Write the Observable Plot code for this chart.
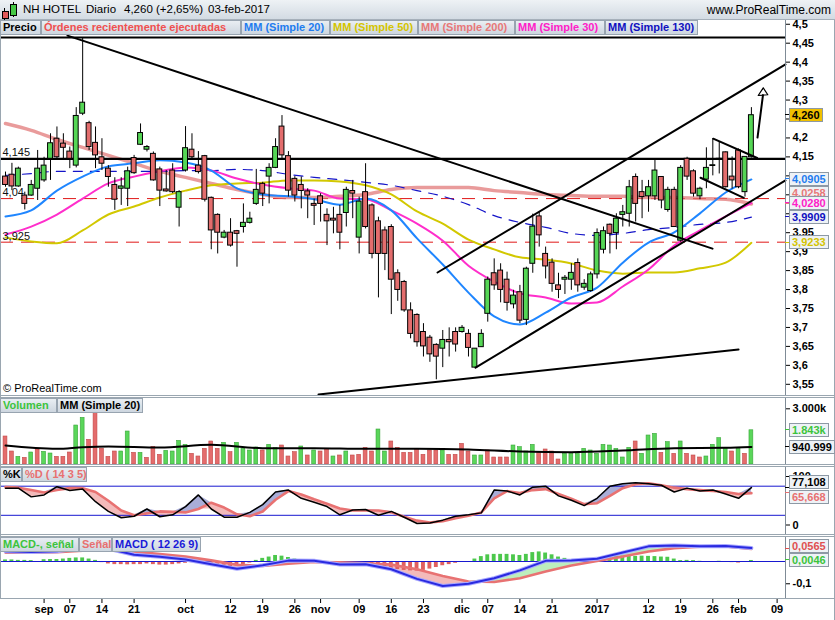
<!DOCTYPE html>
<html><head><meta charset="utf-8">
<script src="https://cdn.jsdelivr.net/npm/d3@7"></script>
<script src="https://cdn.jsdelivr.net/npm/@observablehq/plot@0.6"></script>
<style>
body{margin:0;background:#fff;}
#wrap{position:relative;width:835px;height:620px;overflow:hidden;font-family:"Liberation Sans",Arial,sans-serif;background:#fff;}
#wrap svg{position:absolute;left:0;}
.t{position:absolute;white-space:nowrap;color:#000;}
.box{position:absolute;height:15px;line-height:13px;font-weight:bold;font-size:11px;background:linear-gradient(#e9eef3,#cdd6df);border:1px solid #98a4b0;padding:0 2px;box-sizing:border-box;white-space:nowrap;overflow:hidden;}
.vb{position:absolute;height:14px;line-height:12px;font-weight:bold;font-size:11px;background:#eef2f6;border:1px solid #8d99a5;padding:0 2px;box-sizing:border-box;white-space:nowrap;}
.ln{position:absolute;background:#9aa6b0;}
</style></head>
<body><div id="wrap"></div>
<script>
// ---------- DATA ----------
const openP  = [4.098,4.103,4.072,4.048,4.048,4.066,4.088,4.145,4.198,4.185,4.164,4.127,4.264,4.239,4.187,4.149,4.119,4.076,4.066,4.066,4.147,4.182,4.169,4.158,4.117,4.064,4.114,4.016,4.114,4.169,4.127,4.152,4.042,3.997,3.937,3.950,3.954,3.965,3.976,4.026,4.079,4.098,4.121,4.230,4.152,4.092,4.076,4.059,4.026,4.046,3.997,3.987,3.997,4.002,4.060,3.937,4.057,4.022,3.980,3.956,3.965,3.843,3.820,3.745,3.733,3.688,3.673,3.654,3.644,3.667,3.688,3.688,3.683,3.594,3.648,3.736,3.843,3.850,3.826,3.761,3.793,3.720,3.868,3.993,3.894,3.871,3.811,3.826,3.826,3.870,3.805,3.796,3.840,3.905,3.971,3.949,3.997,4.000,4.097,4.057,4.046,4.046,4.097,4.010,4.063,3.929,4.145,4.112,4.046,4.090,4.126,4.143,4.162,4.098,4.167,4.057,4.149];
const highP  = [4.110,4.133,4.123,4.057,4.088,4.167,4.149,4.211,4.229,4.211,4.176,4.280,4.464,4.244,4.229,4.198,4.127,4.095,4.095,4.123,4.154,4.237,4.180,4.163,4.123,4.114,4.132,4.061,4.230,4.211,4.164,4.154,4.044,4.000,3.956,3.987,3.956,4.026,4.004,4.117,4.083,4.132,4.198,4.259,4.164,4.098,4.097,4.066,4.039,4.053,4.013,4.017,4.022,4.070,4.088,4.044,4.132,4.026,3.991,3.965,3.971,3.852,3.824,3.765,3.736,3.710,3.679,3.657,3.692,3.699,3.699,3.705,3.694,3.644,3.694,3.833,3.881,3.868,3.846,3.798,3.811,3.859,3.999,4.004,3.912,3.881,3.843,3.837,3.868,3.881,3.826,3.846,3.960,3.965,3.973,4.000,4.022,4.088,4.105,4.088,4.088,4.142,4.098,4.070,4.070,4.127,4.149,4.116,4.070,4.174,4.198,4.190,4.163,4.150,4.171,4.149,4.280];
const lowP   = [4.070,4.061,4.070,4.010,4.046,4.035,4.083,4.088,4.141,4.141,4.119,4.121,4.259,4.167,4.119,4.114,4.070,4.009,4.022,4.019,4.104,4.180,4.163,4.086,4.019,4.057,4.053,3.965,4.110,4.145,4.105,4.031,3.905,3.894,3.934,3.912,3.859,3.949,3.973,4.022,4.019,4.026,4.119,4.141,4.044,4.031,4.013,3.987,3.969,3.978,3.916,3.947,3.905,3.965,3.987,3.894,3.960,3.881,3.778,3.850,3.734,3.769,3.740,3.670,3.648,3.622,3.608,3.562,3.594,3.622,3.635,3.685,3.622,3.594,3.648,3.714,3.798,3.765,3.743,3.749,3.710,3.705,3.843,3.912,3.828,3.793,3.776,3.787,3.798,3.793,3.798,3.793,3.828,3.894,3.894,3.905,3.965,3.965,3.978,3.987,4.004,4.035,4.013,4.004,3.965,3.925,4.088,4.044,4.037,4.066,4.100,4.105,4.068,4.065,4.066,4.044,4.147];
const closeP = [4.076,4.072,4.119,4.026,4.076,4.119,4.127,4.186,4.149,4.174,4.145,4.258,4.293,4.176,4.154,4.132,4.097,4.037,4.072,4.112,4.107,4.213,4.176,4.088,4.061,4.059,4.057,4.057,4.173,4.149,4.110,4.037,3.956,3.950,3.950,3.916,3.947,3.976,3.987,4.063,4.053,4.121,4.176,4.154,4.061,4.048,4.060,4.048,4.021,4.026,3.980,3.982,3.950,4.063,4.053,4.032,3.965,3.894,3.894,3.894,3.826,3.799,3.745,3.683,3.661,3.650,3.629,3.623,3.667,3.661,3.655,3.699,3.646,3.644,3.683,3.826,3.811,3.799,3.765,3.784,3.718,3.855,3.966,3.943,3.861,3.815,3.799,3.831,3.844,3.811,3.815,3.840,3.949,3.954,3.947,3.987,4.004,4.070,4.026,4.044,4.070,4.114,4.035,4.063,3.965,4.121,4.098,4.053,4.066,4.121,4.128,4.145,4.070,4.088,4.070,4.150,4.260];

const maIdx  = [0,4,8,12,16,20,24,28,32,36,40,44,48,52,56,60,64,68,72,76,80,84,88,92,96,100,104,108,112,116];
const ma20   = [3.993,4.009,4.061,4.098,4.125,4.133,4.141,4.135,4.114,4.067,4.051,4.046,4.038,4.024,4.040,4.009,3.935,3.866,3.792,3.729,3.708,3.739,3.779,3.805,3.871,3.924,3.951,4.001,4.056,4.0905];
const ma30   = [3.945,3.966,3.998,4.040,4.080,4.098,4.112,4.122,4.114,4.093,4.077,4.067,4.061,4.040,4.038,4.009,3.974,3.929,3.863,3.821,3.790,3.779,3.763,3.766,3.808,3.853,3.916,3.956,3.993,4.028];
const ma50   = [3.937,3.927,3.922,3.956,3.998,4.019,4.043,4.061,4.075,4.080,4.082,4.088,4.088,4.085,4.075,4.051,4.006,3.974,3.932,3.906,3.885,3.879,3.869,3.850,3.842,3.845,3.845,3.856,3.871,3.9233];
const ma200  = [4.238,4.220,4.196,4.175,4.154,4.133,4.112,4.096,4.080,4.064,4.051,4.043,4.043,4.046,4.051,4.064,4.069,4.069,4.069,4.061,4.056,4.051,4.048,4.046,4.046,4.043,4.043,4.040,4.038,4.0258];
const ma130  = [4.101,4.106,4.112,4.112,4.112,4.112,4.112,4.114,4.114,4.117,4.114,4.104,4.096,4.090,4.083,4.075,4.061,4.046,4.024,3.995,3.977,3.964,3.948,3.943,3.948,3.958,3.964,3.972,3.977,3.9909];

const priceTicks = [3.55,3.6,3.65,3.7,3.75,3.8,3.85,3.9,3.95,4.0,4.05,4.1,4.15,4.2,4.25,4.3,4.35,4.4,4.45,4.5];
const hiddenTicks = [4.0,4.05,4.1,4.25];   // covered by value boxes in the original
const solidLevels  = [4.465, 4.145];
const dashedLevels = [4.04, 3.925];
const levelText    = [{v:4.145,t:"4,145"},{v:4.04,t:"4,04"},{v:3.925,t:"3,925"}];

// drawn trend lines: [index, price] end points
const trendLines = [
  {id:"down",   pts:[[9.64,4.470],[109.95,3.908]]},
  {id:"chUp",   pts:[[67.19,3.845],[121.3,4.394]]},
  {id:"chLow",  pts:[[73.1,3.594],[121.3,4.088]]},
  {id:"support",pts:[[48.68,3.523],[114.0,3.642]]},
  {id:"flagUp", pts:[[110.06,4.198],[116.9,4.147]]},
  {id:"flagLow",pts:[[108.09,4.095],[114.82,4.042]]}
];
const arrowShaft = [[116.95,4.201],[117.8,4.313]];
const arrowHead  = [[117.84,4.332],[117.06,4.312],[118.55,4.314],[117.84,4.332]];

// volume (thousands)
const volK  = [1508,700,413,359,646,808,682,592,413,413,646,2100,2513,1328,2764,844,413,700,700,1777,628,628,359,951,520,736,700,1274,1059,574,431,
               844,1239,844,1167,664,1167,844,754,915,754,1059,880,1023,431,664,969,485,754,700,844,431,485,700,485,520,898,700,1885,700,1239,898,628,628,844,520,754,754,754,520,520,1113,700,485,485,754,377,377,377,1023,933,700,1059,628,808,700,269,574,574,574,844,754,574,1059,1023,844,377,898,1239,574,1562,1651,628,1203,574,1239,574,485,377,431,1059,1418,898,700,844,574,1843];
const volUp = [0,0,1,0,1,0,1,1,0,0,0,1,1,0,0,0,0,0,1,1,0,1,0,0,0,1,1,1,1,0,0,
               0,0,0,1,0,1,1,1,1,0,1,1,0,0,0,1,0,1,0,0,1,0,1,0,0,0,0,1,1,0,0,0,0,0,0,0,0,1,0,0,0,0,1,1,0,0,0,0,1,1,1,1,0,0,0,0,1,1,1,1,1,1,1,1,1,1,1,0,1,1,1,0,1,0,1,0,0,0,1,1,1,1,0,1,0,1];
const volMaIdx = [0,8,12,16,24,32,40,48,56,64,72,80,88,96,104,112,116];
const volMa    = [1023,844,933,969,915,1059,880,880,844,844,808,700,664,754,880,898,941];
const volTicks = [3000];
const volTickLabels = ["3.000k"];

// stochastic %K / %D
const stIdx = [0,2,4,6,8,10,12,14,16,18,20,22,24,26,28,30,32,34,36,38,40,42,44,46,48,50,52,54,56,58,60,62,64,66,68,70,72,74,76,78,80,82,84,86,88,90,92,94,96,98,100,102,104,106,108,110,112,114,116];
const stK = [76,76,58,62,79,71,74,48,28,15,18,33,17,21,38,62,33,16,16,26,42,68,72,55,47,38,21,31,32,20,28,16,3,4,10,18,21,25,72,70,62,78,80,60,51,40,55,80,85,87,85,82,68,76,70,72,64,55,77.108];
const stD = [78,77,72,67,72,76,76,68,50,30,20,24,28,27,26,33,46,36,22,18,28,52,70,63,53,44,34,30,30,30,26,17,9,5,8,14,19,26,55,70,66,72,74,64,54,43,45,60,76,84,86,82,77,74,72,70,68,64,65.668];
const stLevels = [80,20];
const stTicks = [0,100];

// MACD
const mcIdx = [0,4,8,12,16,20,24,28,32,36,40,44,48,52,56,60,64,68,72,76,80,84,88,92,96,100,104,108,112,116];
const macd  = [0.046,0.043,0.046,0.062,0.057,0.030,0.021,0.009,-0.012,-0.033,-0.017,0.004,0.003,-0.013,-0.012,-0.035,-0.078,-0.110,-0.100,-0.075,-0.040,0.003,0.0045,0.012,0.040,0.068,0.072,0.069,0.070,0.0611];
const signal= [0.040,0.040,0.042,0.048,0.052,0.045,0.033,0.022,0.005,-0.015,-0.020,-0.010,-0.002,-0.004,-0.008,-0.014,-0.035,-0.065,-0.090,-0.092,-0.075,-0.045,-0.018,0.002,0.022,0.045,0.060,0.066,0.068,0.0565];
const hist  = [0.007,0.007,0.005,0.005,0.004,0.000,0.008,0.009,0.009,0.011,0.014,0.016,0.016,0.011,0.005,-0.005,
  -0.011,-0.014,-0.014,-0.015,-0.014,-0.014,-0.011,-0.014,-0.016,-0.016,-0.014,-0.011,-0.008,-0.005,
  -0.008,-0.012,-0.016,-0.020,-0.024,-0.027,-0.020,-0.014,-0.007,0.005,0.014,0.020,0.027,0.024,0.018,0.011,0.005,
  -0.003,-0.004,-0.005,-0.005,-0.005,-0.004,-0.003,-0.005,-0.009,-0.014,-0.018,-0.023,-0.027,-0.032,-0.036,-0.040,-0.042,-0.043,-0.040,-0.034,
  -0.027,-0.019,-0.014,-0.008,-0.004,-0.001,0.011,0.022,0.030,0.032,0.032,0.032,0.030,0.027,0.032,0.040,0.043,0.038,
  0.030,0.020,0.014,0.008,0.005,0.004,0.003,0.014,0.019,0.022,0.024,0.024,0.024,0.023,0.024,0.023,0.022,0.020,0.019,
  0.011,0.004,0.005,0.004,0.001,0.000,0.000,0.001,-0.004,-0.005,-0.007,-0.004,0.0046];
const mcTicks = [-0.1];
const mcTickLabels = ["-0,1"];

// x axis (trading-day index -> label)
const xTickIdx    = [6,10,15,20,28,35,40,45,49,55,60,65,71,75,80,85,92,100,105,110,114,120];
const xTickLabels = ["sep","07","14","21","oct","12","19","26","nov","09","16","23","dic","07","14","21","2017","12","19","26","feb","09"];

// ---------- DRAW ----------
const wrap = document.getElementById("wrap");
const FONT = "'Liberation Sans', Arial, sans-serif";
const GREEN = "#55d655", RED = "#e36d6d";
const X = {type:"linear", domain:[0,116], range:[5,750.9], axis:null};
const baseStyle = {fontFamily:FONT, fontSize:"11px", fontWeight:"bold", background:"transparent", overflow:"visible", color:"black"};
const fmt = d => hiddenTicks.some(h=>Math.abs(h-d)<1e-9) ? "" : String(+d.toFixed(3)).replace(".", ",");

function place(svg, top){ svg.style.top = top + "px"; wrap.appendChild(svg); return svg; }

const candles = closeP.map((c,i)=>({i, o:openP[i], h:highP[i], l:lowP[i], c}));
const maRows = arr => maIdx.map((i,k)=>({i, v:arr[k]}));
const trendRows = trendLines.flatMap(t => t.pts.map(p => ({z:t.id, i:p[0], v:p[1]})));

const price = Plot.plot({
  width:835, height:397, marginLeft:0, marginRight:50, marginTop:20, marginBottom:0,
  x:X, y:{type:"linear", domain:[3.55,4.45], range:[383.8,42.7]},
  style:baseStyle,
  marks:[
    Plot.ruleY(dashedLevels, {stroke:"#e01818", strokeWidth:1, strokeDasharray:"13,8"}),
    Plot.line(maRows(ma200), {x:"i", y:"v", stroke:"#e07070", strokeWidth:3.5, strokeOpacity:0.7, curve:"monotone-x"}),
    Plot.line(maRows(ma130), {x:"i", y:"v", stroke:"#1414c8", strokeWidth:1.2, strokeDasharray:"9,8", curve:"monotone-x"}),
    Plot.line(maRows(ma50),  {x:"i", y:"v", stroke:"#d2c800", strokeWidth:2, curve:"monotone-x"}),
    Plot.line(maRows(ma30),  {x:"i", y:"v", stroke:"#ff2ecb", strokeWidth:2, curve:"monotone-x"}),
    Plot.line(maRows(ma20),  {x:"i", y:"v", stroke:"#1f86ff", strokeWidth:2, curve:"monotone-x"}),
    Plot.ruleY(solidLevels, {stroke:"black", strokeWidth:2.2}),
    Plot.ruleX(candles, {x:"i", y1:"l", y2:"h", stroke:"black", strokeWidth:1}),
    Plot.rect(candles, {x1:d=>d.i-0.38, x2:d=>d.i+0.38, y1:"o", y2:"c", fill:d=>d.c>=d.o?GREEN:RED, stroke:"black", strokeWidth:1}),
    Plot.line(trendRows, {x:"i", y:"v", z:"z", stroke:"black", strokeWidth:2}),
    Plot.line(arrowShaft.map(p=>({i:p[0], v:p[1]})), {x:"i", y:"v", stroke:"black", strokeWidth:2}),
    Plot.line(arrowHead.map(p=>({i:p[0], v:p[1]})), {x:"i", y:"v", stroke:"black", strokeWidth:1.2}),
    Plot.text(levelText, {y:"v", text:"t", frameAnchor:"left", textAnchor:"start", dx:2, dy:-6, fontWeight:"normal", fontSize:11, fill:"#111"}),
    Plot.axisY({anchor:"right", label:null, ticks:priceTicks, tickFormat:fmt, tickSize:4, tickPadding:3, stroke:"black", fill:"black"})
  ]
});
place(price, 0);

const vols = volK.map((v,i)=>({i, v, up:volUp[i]}));
const volume = Plot.plot({
  width:835, height:70, marginLeft:0, marginRight:50, marginTop:0, marginBottom:0,
  x:X, y:{type:"linear", domain:[0,3000], range:[67,11.3]},
  style:baseStyle,
  marks:[
    Plot.rect(vols, {x1:d=>d.i-0.3, x2:d=>d.i+0.3, y1:0, y2:"v", fill:d=>d.up?"#5ad65a":"#e46c6c", stroke:d=>d.up?"#3aa63a":"#c24a4a", strokeWidth:0.6}),
    Plot.line(volMaIdx.map((i,k)=>({i, v:volMa[k]})), {x:"i", y:"v", stroke:"black", strokeWidth:2, curve:"monotone-x"}),
    Plot.axisY({anchor:"right", label:null, ticks:volTicks, tickFormat:d=>volTickLabels[volTicks.indexOf(d)], tickSize:4, tickPadding:3, stroke:"black", fill:"black"})
  ]
});
place(volume, 397);

const st = stIdx.map((i,k)=>({i, k:stK[k], d:stD[k]}));
const stoch = Plot.plot({
  width:835, height:68, marginLeft:0, marginRight:50, marginTop:0, marginBottom:0,
  x:X, y:{type:"linear", domain:[0,100], range:[57.5,9]},
  style:baseStyle,
  marks:[
    Plot.areaY(st, {x:"i", y1:"d", y2:r=>Math.max(r.k,r.d), fill:"#a9add8"}),
    Plot.areaY(st, {x:"i", y1:r=>Math.min(r.k,r.d), y2:"d", fill:"#f3baba"}),
    Plot.ruleY(stLevels, {stroke:"#1818d0", strokeWidth:1}),
    Plot.line(st, {x:"i", y:"d", stroke:"#e87272", strokeWidth:2.6}),
    Plot.line(st, {x:"i", y:"k", stroke:"black", strokeWidth:1.5}),
    Plot.axisY({anchor:"right", label:null, ticks:stTicks, tickFormat:d=>String(d), tickSize:4, tickPadding:3, stroke:"black", fill:"black"})
  ]
});
place(stoch, 467);

const mc = mcIdx.map((i,k)=>({i, m:macd[k], s:signal[k]}));
const hs = hist.map((h,i)=>({i, h}));
const macdPlot = Plot.plot({
  width:835, height:84, marginLeft:0, marginRight:50, marginTop:0, marginBottom:22,
  x:X, y:{type:"linear", domain:[-0.1,0.1], range:[47.28,2.72]},
  style:baseStyle,
  marks:[
    Plot.areaY(mc, {x:"i", y1:"s", y2:r=>Math.max(r.m,r.s), fill:"#bdeebd"}),
    Plot.areaY(mc, {x:"i", y1:r=>Math.min(r.m,r.s), y2:"s", fill:"#f3baba"}),
    Plot.rect(hs, {x1:d=>d.i-0.3, x2:d=>d.i+0.3, y1:0, y2:"h", fill:d=>d.h>=0?"#4cc84c":"#e06060"}),
    Plot.ruleY([0], {stroke:"#1818d0", strokeWidth:1.2}),
    Plot.line(mc, {x:"i", y:"s", stroke:"#e87272", strokeWidth:2.6}),
    Plot.line(mc, {x:"i", y:"m", stroke:"#a8a8ff", strokeWidth:4}),
    Plot.line(mc, {x:"i", y:"m", stroke:"#2a2ae0", strokeWidth:2}),
    Plot.axisY({anchor:"right", label:null, ticks:mcTicks, tickFormat:d=>mcTickLabels[mcTicks.indexOf(d)], tickSize:4, tickPadding:3, stroke:"black", fill:"black"}),
    Plot.axisX({anchor:"bottom", label:null, ticks:xTickIdx, tickFormat:d=>xTickLabels[xTickIdx.indexOf(d)], tickSize:5, tickPadding:2, stroke:"black", fill:"black"})
  ]
});
place(macdPlot, 536);

// ---------- HTML overlays ----------
function el(cls, css, html){ const d=document.createElement("div"); d.className=cls; Object.assign(d.style, css); if(html!==undefined) d.innerHTML=html; wrap.appendChild(d); return d; }
function hline(y,x1,x2,c){ el("ln",{left:x1+"px",top:y+"px",width:(x2-x1)+"px",height:"1px",background:c||"#9aa6b0"}); }
function vline(x,y1,y2,c){ el("ln",{left:x+"px",top:y1+"px",width:"1px",height:(y2-y1)+"px",background:c||"#9aa6b0"}); }

// header
el("t",{left:"0px",top:"0px",width:"835px",height:"19px",background:"linear-gradient(#eef2f5,#d3dbe3)"});
hline(19,0,835,"#a6b0ba");
el("t",{left:"4px",top:"8px",width:"1px",height:"12px",background:"#000"});
el("t",{left:"2px",top:"11px",width:"5px",height:"6px",background:"#e05a5a",border:"1px solid #000"});
el("t",{left:"13px",top:"2px",width:"1px",height:"15px",background:"#000"});
el("t",{left:"10px",top:"4px",width:"5px",height:"10px",background:"#46c846",border:"1px solid #000"});
el("t",{left:"23px",top:"3px",fontSize:"11.5px"},"NH HOTEL");
el("t",{left:"86px",top:"3px",fontSize:"11.5px"},"Diario");
el("t",{left:"124px",top:"3px",fontSize:"11.5px"},"4,260 (+2,65%)");
el("t",{left:"208px",top:"3px",fontSize:"11.5px"},"03-feb-2017");
el("t",{right:"4px",top:"3px",fontSize:"12px"},"www.ProRealTime.com");

// panel frames
vline(0,20,598); vline(834,20,620);
[[20,395],[397,464],[467,534],[536,598]].forEach(([a,b])=>vline(785,a,b,"#7f8b96"));
[395,397,464,466,534,536,598].forEach(y=>hline(y,0,835));

// legend boxes
const legends = [
  [[["Precio","#000",41],["Órdenes recientemente ejecutadas","#f05050",200],["MM (Simple 20)","#1e7cf0",89],["MM (Simple 50)","#d4c400",88],["MM (Simple 200)","#e87878",97],["MM (Simple 30)","#ff20c8",90],["MM (Simple 130)","#1010c0",93]],20],
  [[["Volumen","#3cc43c",57],["MM (Simple 20)","#000",86]],398],
  [[["%K","#000",22],["%D ( 14 3 5)","#e87070",65]],467],
  [[["MACD-, señal","#3cc43c",79],["Señal","#e87070",33],["MACD ( 12 26 9)","#1a1ad8",89]],537]
];
legends.forEach(([items,top])=>{ let x=0; items.forEach(([t,c,w])=>{ el("box",{left:x+"px",top:top+"px",width:w+"px",color:c},t); x+=w; }); });

el("t",{left:"3px",top:"382px",fontSize:"11px"},"© ProRealTime.com");

// value boxes on right axes
function vbox(yc, text, color, bg, shift){ const y = yc + (shift||0);
  el("t",{left:"785px",top:(yc-0.5)+"px",width:"4px",height:"1px",background:color});
  el("vb",{left:"789px",top:(y-7)+"px",color:color,background:bg||"#eef2f6"},text); }
const py = v => price.scale("y").apply(v);
vbox(py(closeP[closeP.length-1]), "4,260", "#000", "#f0c000");
vbox(py(ma20[ma20.length-1]), "4,0905", "#1e7cf0");
vbox(py(ma200[ma200.length-1]), "4,0258", "#e87878", null, -10);
vbox(py(ma30[ma30.length-1]), "4,0280", "#ff20c8");
vbox(py(ma130[ma130.length-1]), "3,9909", "#1010c0");
vbox(py(ma50[ma50.length-1]), "3,9233", "#d4c400");
const vy = v => 397 + volume.scale("y").apply(v);
vbox(vy(volK[volK.length-1]), "1.843k", "#3cc43c");
vbox(vy(volMa[volMa.length-1]), "940.999", "#000");
const sy = v => 467 + stoch.scale("y").apply(v);
vbox(sy(stK[stK.length-1]), "77,108", "#000", null, -5);
vbox(sy(stD[stD.length-1]), "65,668", "#e87070", null, 4);
const my = v => 536 + macdPlot.scale("y").apply(v);
vbox(my(signal[signal.length-1]), "0,0565", "#e05050", null, -2);
vbox(my(hist[hist.length-1]), "0,0046", "#3cc43c");
</script>
</body></html>
